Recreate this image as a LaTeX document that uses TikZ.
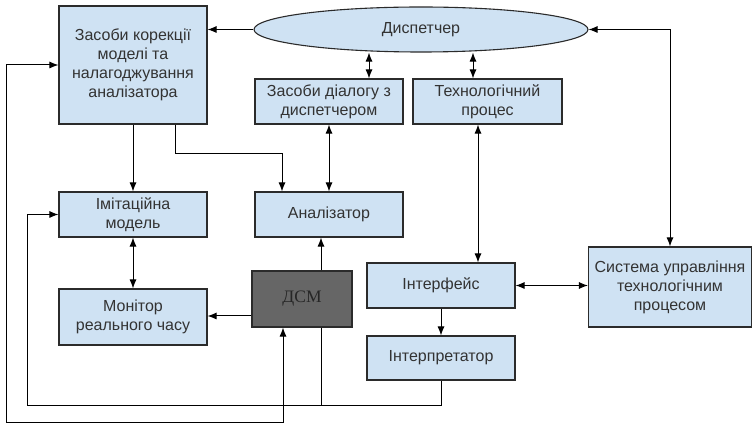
\documentclass[tikz,border=0pt]{standalone}
\usepackage{fontspec}
\setmainfont{Liberation Sans}
\newfontfamily\dsmfont{Liberation Serif}
\usetikzlibrary{calc}
\usetikzlibrary{positioning}
\usetikzlibrary{shapes.geometric}
\usetikzlibrary{arrows.meta}
\definecolor{boxColor}{HTML}{CFE2F3}
\definecolor{edgeColor}{HTML}{2B2B2B}
\definecolor{darkColor}{HTML}{666666}
\definecolor{txtColor}{HTML}{333333}

\begin{document}
\begin{tikzpicture}[
		x=1pt, y=-1pt,
		blk/.style={draw=edgeColor, line width=1.1pt, fill=boxColor, minimum width=148pt, minimum height=45pt, inner sep=2pt, align=center, text=txtColor, font=\fontsize{16}{19}\selectfont},
		dark/.style={blk, fill=darkColor, minimum width=100pt, minimum height=56pt, font=\dsmfont\fontsize{17.5}{19}\selectfont, text=black!85},
		disp/.style={blk, ellipse, minimum width=334pt, minimum height=45pt, inner sep=0pt},
		conn/.style={draw=black, line width=1pt, -{Latex[length=9pt,width=7pt]}},
		bconn/.style={conn, {Latex[length=9pt,width=7pt]}-{Latex[length=9pt,width=7pt]}}
		]
		\useasboundingbox (0,0) rectangle (755,427);

		% Blocks
		\node[blk, minimum height=118pt] (korek) at (133,65) {Засоби корекції\\ моделі та\\ налагоджування\\ аналізатора};
		\node[disp] (disp) at (421,29.5) {Диспетчер};
		\node[blk] (dialog) at (329,101.5) {Засоби діалогу з\\ диспетчером};
		\node[blk, minimum width=149pt] (tproc) at (487.5,101.5) {Технологічний\\ процес};
		\node[blk] (imit) at (133,214.5) {Імітаційна\\ модель};
		\node[blk] (anal) at (329,214.5) {Аналізатор};
		\node[blk, minimum height=56pt] (monit) at (133,317) {Монітор\\ реального часу};
		\node[dark] (dsm) at (302,299) {ДСМ};
		\node[blk] (intf) at (441,285.5) {Інтерфейс};
		\node[blk, minimum height=44pt] (interp) at (441,358) {Інтерпретатор};
		\node[blk, minimum width=163pt, minimum height=80pt] (sutp) at (670,287) {Система управління\\ технологічним\\ процесом};

		% Connectors
		\draw[conn] (disp.west) -- (korek.east |- disp.west);
		\draw[bconn] ([xshift=40pt]dialog.north) -- ([xshift=40pt]dialog.north |- disp.south);
		\draw[bconn] ([xshift=-14.5pt]tproc.north) -- ([xshift=-14.5pt]tproc.north |- disp.south);
		\draw[bconn] (sutp.north) |- (disp.east);
		\draw[conn] (korek.south) -- (imit.north);
		\draw[conn] ([xshift=42pt]korek.south) -- ++(0,29) -| ([xshift=-47pt]anal.north);
		\draw[bconn] (dialog.south) -- (anal.north);
		\draw[bconn] ([xshift=-9.5pt]tproc.south) -- ([xshift=-9.5pt]tproc.south |- intf.north);
		\draw[bconn] (imit.south) -- (monit.north);
		\draw[conn] ([yshift=-17pt]dsm.west) -- ([yshift=-17pt]monit.east |- dsm.west);
		\draw[conn] ([xshift=19pt]dsm.north) -- ([xshift=19pt]dsm.north |- anal.south);
		\draw[bconn] (intf.east) -- (sutp.west |- intf.east);
		\draw[conn] (intf.south) -- (interp.north);
		\draw[conn] (interp.south) -- ++(0,25) -| ([xshift=-31pt]imit.west) -- (imit.west);
		\draw[line width=1pt] ([xshift=19pt]dsm.south) -- ++(0,78);
		\draw[bconn] (korek.west) -- ++(-52,0) -- ++(0,357) -| ([xshift=-19pt]dsm.south);
	\end{tikzpicture}
\end{document}
